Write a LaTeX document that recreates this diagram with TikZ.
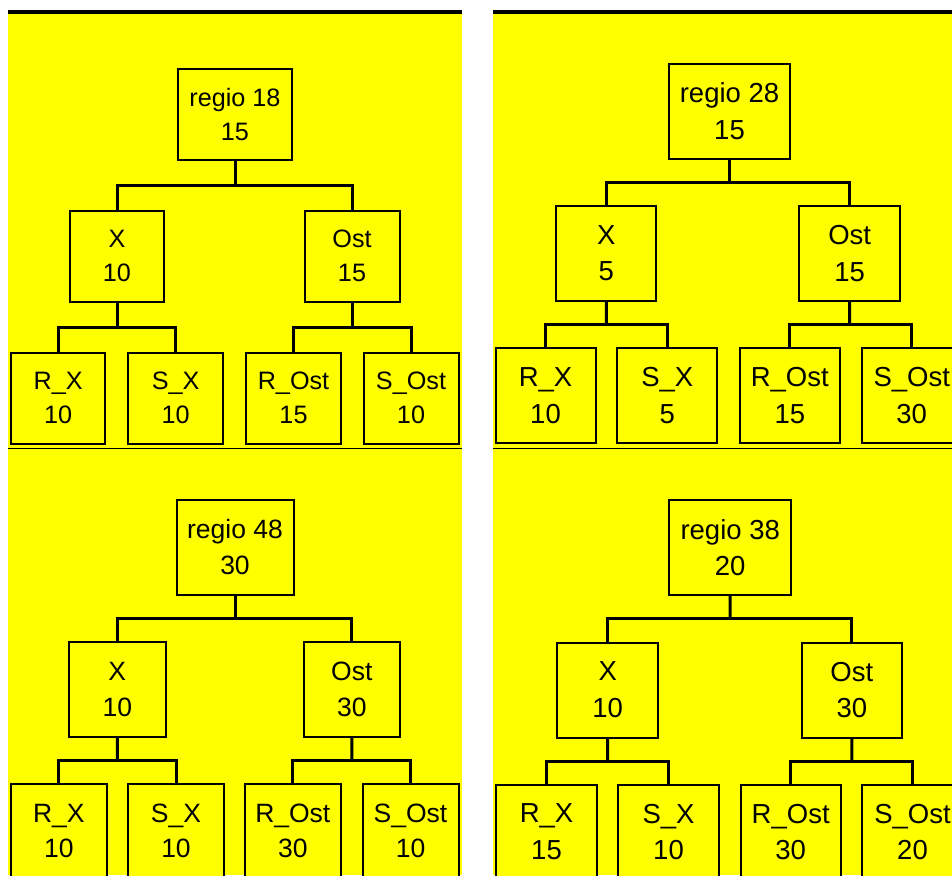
\documentclass[tikz,border=0pt]{standalone}
\usepackage{fontspec}
\setmainfont{Liberation Sans}
\usetikzlibrary{calc}
\definecolor{panel}{RGB}{255,255,0}
\tikzset{
  box/.style={draw=black, line width=2pt, fill=panel, inner sep=0pt, align=center},
  link/.style={draw=black, line width=3pt},
  fontA/.style={font=\fontsize{25.2}{34}\selectfont},
  fontB/.style={font=\fontsize{26.5}{35.7}\selectfont},
  fontC/.style={font=\fontsize{27.5}{36.7}\selectfont},
}
% elbow connector: parent #1 to its children #2 (left) and #3 (right)
\newcommand\treelink[3]{%
  \coordinate (#1-mid) at ($(#1.south)!.5!(#1.south|-#2.north)$);
  \draw[link] (#1.south) -- (#1-mid);
  \draw[link] (#2.north) |- (#1-mid) -| (#3.north);
}
\begin{document}
\begin{tikzpicture}[x=1pt, y=-1pt]
\useasboundingbox (0,0) rectangle (952,875);
\clip (0,0) rectangle (952,875);
% background panels
\fill[white] (0,0) rectangle (952,875);
\fill[panel] (8,10) rectangle (462,875);
\fill[panel] (493,10) rectangle (952,875);
\fill[black] (8,10) rectangle (462,14);
\fill[black] (493,10) rectangle (952,14);
\draw[line width=1pt] (8,448) -- (462,448);
\draw[line width=1pt] (493,448) -- (952,448);

% ---- regio 18 ----
\begin{scope}[every node/.append style={fontA}]
\node[box, minimum width=114pt, minimum height=91pt] (a-r) at (235,114) {regio 18\\15};
\node[box, minimum width=94pt, minimum height=91pt] (a-x) at (117,256) {X\\10};
\node[box, minimum width=95pt, minimum height=91pt] (a-o) at (352,256) {Ost\\15};
\node[box, minimum width=94.5pt, minimum height=91pt] (a-rx) at (58.2,398.3) {R\_X\\10};
\node[box, minimum width=94.5pt, minimum height=91pt] (a-sx) at (175.7,398.3) {S\_X\\10};
\node[box, minimum width=94.5pt, minimum height=91pt] (a-ro) at (293.5,398.3) {R\_Ost\\15};
\node[box, minimum width=95pt, minimum height=91pt] (a-so) at (411,398.3) {S\_Ost\\10};
\end{scope}
\treelink{a-r}{a-x}{a-o}
\treelink{a-x}{a-rx}{a-sx}
\treelink{a-o}{a-ro}{a-so}

% ---- regio 28 ----
\begin{scope}[every node/.append style={fontC}]
\node[box, minimum width=121pt, minimum height=95pt] (b-r) at (729.5,111.5) {regio 28\\15};
\node[box, minimum width=100pt, minimum height=95pt] (b-x) at (606.3,253.3) {X\\5};
\node[box, minimum width=100.5pt, minimum height=95pt] (b-o) at (849.7,253.3) {Ost\\15};
\node[box, minimum width=100pt, minimum height=94.5pt] (b-rx) at (545.5,395.5) {R\_X\\10};
\node[box, minimum width=100pt, minimum height=94.5pt] (b-sx) at (667.3,395.5) {S\_X\\5};
\node[box, minimum width=100pt, minimum height=94.5pt] (b-ro) at (789.8,395.5) {R\_Ost\\15};
\node[box, minimum width=100pt, minimum height=94.5pt] (b-so) at (911.7,395.5) {S\_Ost\\30};
\end{scope}
\treelink{b-r}{b-x}{b-o}
\treelink{b-x}{b-rx}{b-sx}
\treelink{b-o}{b-ro}{b-so}

% ---- regio 48 ----
\begin{scope}[every node/.append style={fontB}]
\node[box, minimum width=117pt, minimum height=95pt] (c-r) at (235,547.3) {regio 48\\30};
\node[box, minimum width=96.5pt, minimum height=95pt] (c-x) at (117.3,689.3) {X\\10};
\node[box, minimum width=96.5pt, minimum height=95pt] (c-o) at (351.8,689.3) {Ost\\30};
\node[box, minimum width=96pt, minimum height=95pt] (c-rx) at (58.8,831) {R\_X\\10};
\node[box, minimum width=96pt, minimum height=95pt] (c-sx) at (176,831) {S\_X\\10};
\node[box, minimum width=96pt, minimum height=95pt] (c-ro) at (292.8,831) {R\_Ost\\30};
\node[box, minimum width=96pt, minimum height=95pt] (c-so) at (410.5,831) {S\_Ost\\10};
\end{scope}
\treelink{c-r}{c-x}{c-o}
\treelink{c-x}{c-rx}{c-sx}
\treelink{c-o}{c-ro}{c-so}

% ---- regio 38 ----
\begin{scope}[every node/.append style={fontC}]
\node[box, minimum width=121.7pt, minimum height=95pt] (d-r) at (730.2,547.7) {regio 38\\20};
\node[box, minimum width=100.5pt, minimum height=95pt] (d-x) at (607.7,690) {X\\10};
\node[box, minimum width=100.5pt, minimum height=95pt] (d-o) at (851.8,690) {Ost\\30};
\node[box, minimum width=100.3pt, minimum height=95pt] (d-rx) at (546.5,832) {R\_X\\15};
\node[box, minimum width=100.3pt, minimum height=95pt] (d-sx) at (668.5,832) {S\_X\\10};
\node[box, minimum width=100.3pt, minimum height=95pt] (d-ro) at (790.7,832) {R\_Ost\\30};
\node[box, minimum width=100.3pt, minimum height=95pt] (d-so) at (912.5,832) {S\_Ost\\20};
\end{scope}
\treelink{d-r}{d-x}{d-o}
\treelink{d-x}{d-rx}{d-sx}
\treelink{d-o}{d-ro}{d-so}
\end{tikzpicture}
\end{document}
